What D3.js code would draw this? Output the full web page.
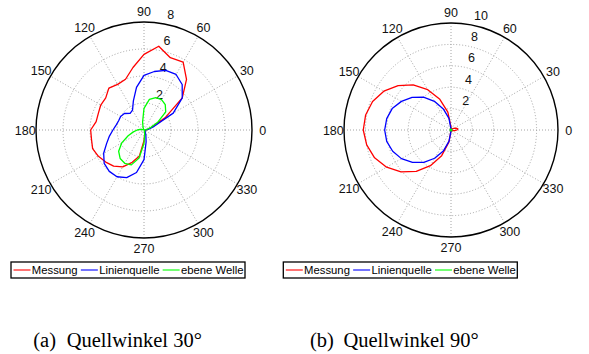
<!DOCTYPE html>
<html>
<head>
<meta charset="utf-8">
<script src="https://cdn.jsdelivr.net/npm/d3@7"></script>
<style>
  body { margin: 0; background: #fff; }
  svg { display: block; }
</style>
</head>
<body>
<svg id="chart" width="589" height="354"></svg>
<script>
// measurement directions, degrees counter-clockwise from 0
const thetaDeg = [0, 10, 20, 30, 40, 50, 60, 70, 80, 90, 100, 110, 120, 130, 140, 150, 160, 170,
  180, 190, 200, 210, 220, 230, 240, 250, 260, 270, 280, 290, 300, 310, 320, 330, 340, 350];

// (a) source angle 30 deg
const messungA = [0.15, 0.3, 0.6, 1.8, 3.7, 4.9, 5.8, 5.7, 6.3, 5.6, 4.7, 4.0, 3.9, 4.05, 3.7, 3.7, 3.6, 3.6,
  3.95, 3.95, 4.05, 3.9, 3.7, 3.5, 3.15, 2.55, 1.95, 0.8, 0.3, 0.15, 0.1, 0.1, 0.1, 0.1, 0.1, 0.1];
const linienA = [0.15, 0.35, 0.8, 2.5, 3.7, 4.4, 4.75, 4.7, 4.4, 4.05, 3.2, 2.3, 1.7, 1.6, 1.9, 2.0, 2.0, 2.1,
  2.3, 2.6, 2.95, 3.45, 3.85, 4.0, 4.0, 3.75, 3.2, 2.2, 0.9, 0.4, 0.2, 0.1, 0.1, 0.1, 0.1, 0.1];
const ebeneA = [0.1, 0.2, 0.5, 1.2, 2.1, 2.45, 2.6, 2.55, 2.3, 1.6, 0.6, 0.2, 0.05, 0.05, 0.05, 0.05, 0.1, 0.3,
  0.5, 0.8, 1.25, 1.9, 2.45, 2.75, 2.85, 2.75, 2.1, 1.0, 0.3, 0.1, 0.05, 0.05, 0.05, 0.05, 0.05, 0.05];

// (b) source angle 90 deg
const messungB = [0.55, 0.65, 0.5, 0.3, 0.15, 0.1, 0.05, 0.05, 0.05, 0.3, 1.7, 3.05, 4.35, 5.5, 6.45, 7.25, 7.8, 8.1,
  8.2, 8.0, 7.6, 6.95, 6.1, 5.05, 3.85, 2.55, 1.15, 0.1, 0.05, 0.05, 0.05, 0.05, 0.05, 0.05, 0.15, 0.35];
const linienB = [0.05, 0.05, 0.05, 0.05, 0.05, 0.05, 0.05, 0.05, 0.05, 0.1, 1.1, 2.1, 3.1, 4.0, 4.75, 5.35, 5.85, 6.1,
  6.2, 6.1, 5.8, 5.35, 4.7, 3.95, 3.05, 2.1, 1.05, 0.1, 0.05, 0.05, 0.05, 0.05, 0.05, 0.05, 0.05, 0.05];
const ebeneB = [0.08, 0.08, 0.08, 0.08, 0.08, 0.08, 0.08, 0.08, 0.08, 0.08, 0.08, 0.08, 0.08, 0.08, 0.08, 0.08, 0.08, 0.08,
  0.08, 0.08, 0.08, 0.08, 0.08, 0.08, 0.08, 0.08, 0.08, 0.08, 0.08, 0.08, 0.08, 0.08, 0.08, 0.08, 0.08, 0.08];

const angleTicks = [0, 30, 60, 90, 120, 150, 180, 210, 240, 270, 300, 330];
const rTicksA = [2, 4, 6, 8];
const rTicksB = [2, 4, 6, 8, 10];
const seriesNames = ["Messung", "Linienquelle", "ebene Welle"];
const seriesColors = ["#ff0000", "#0000ff", "#00ff00"];
const captionA = ["(a)", "Quellwinkel", "30°"];
const captionB = ["(b)", "Quellwinkel", "90°"];

const svg = d3.select("#chart");
svg.append("rect").attr("width", 589).attr("height", 354).attr("fill", "#fff");

const rad = (deg) => deg * Math.PI / 180;
const sans = "'Liberation Sans', Arial, Helvetica, sans-serif";

const drawPolar = ({ cx, cy, radius, rTicks, series, legendX, captionX, caption }) => {
  const rmax = d3.max(rTicks);
  const rinc = rTicks[1] - rTicks[0];
  const r = d3.scaleLinear().domain([0, rmax]).range([0, radius]);
  const g = svg.append("g").attr("transform", `translate(${cx},${cy})`);

  // dotted grid circles
  g.selectAll("circle.grid")
    .data(rTicks.filter((t) => t < rmax))
    .join("circle")
    .attr("class", "grid")
    .attr("r", (d) => r(d))
    .attr("fill", "none")
    .attr("stroke", "#9a9a9a")
    .attr("stroke-width", 0.9)
    .attr("stroke-dasharray", "1 2");

  // dotted spokes
  g.selectAll("line.spoke")
    .data(angleTicks.filter((a) => a < 180))
    .join("line")
    .attr("class", "spoke")
    .attr("x1", (d) => -r(rmax) * Math.cos(rad(d)))
    .attr("y1", (d) => r(rmax) * Math.sin(rad(d)))
    .attr("x2", (d) => r(rmax) * Math.cos(rad(d)))
    .attr("y2", (d) => -r(rmax) * Math.sin(rad(d)))
    .attr("stroke", "#9a9a9a")
    .attr("stroke-width", 0.9)
    .attr("stroke-dasharray", "1 2");

  // outer circle
  g.append("circle")
    .attr("r", r(rmax))
    .attr("fill", "none")
    .attr("stroke", "#000")
    .attr("stroke-width", 1.4);

  // angle labels
  g.selectAll("text.angle")
    .data(angleTicks)
    .join("text")
    .attr("class", "angle")
    .attr("x", (d) => 1.1 * r(rmax) * Math.cos(rad(d)))
    .attr("y", (d) => -1.1 * r(rmax) * Math.sin(rad(d)))
    .attr("dy", "0.36em")
    .attr("text-anchor", "middle")
    .attr("font-family", sans)
    .attr("font-size", "12.5px")
    .attr("fill", "#111")
    .text((d) => d);

  // radial labels, placed along 82 deg like MATLAB's polar
  g.selectAll("text.rtick")
    .data(rTicks)
    .join("text")
    .attr("class", "rtick")
    .attr("x", (d) => r(d + rinc / 20) * Math.cos(rad(82)) + 8)
    .attr("y", (d) => -r(d + rinc / 20) * Math.sin(rad(82)) - 3)
    .attr("font-family", sans)
    .attr("font-size", "12.5px")
    .attr("fill", "#111")
    .text((d) => d);

  // curves
  const line = d3.lineRadial()
    .angle((d) => rad(90 - d.theta))
    .radius((d) => r(d.value))
    .curve(d3.curveLinearClosed);

  series.forEach((values, i) => {
    g.append("path")
      .datum(thetaDeg.map((theta, k) => ({ theta, value: values[k] })))
      .attr("fill", "none")
      .attr("stroke", seriesColors[i])
      .attr("stroke-width", 1.3)
      .attr("stroke-linejoin", "round")
      .attr("d", line);
  });

  // legend
  const lg = svg.append("g").attr("transform", `translate(${legendX},262)`);
  const box = lg.append("rect")
    .attr("height", 16)
    .attr("fill", "#fff")
    .attr("stroke", "#000")
    .attr("stroke-width", 1.3);
  let x = 2.5;
  seriesNames.forEach((name, i) => {
    lg.append("line")
      .attr("x1", x).attr("x2", x + 17)
      .attr("y1", 8).attr("y2", 8)
      .attr("stroke", seriesColors[i])
      .attr("stroke-width", 1.1);
    const t = lg.append("text")
      .attr("x", x + 18.3)
      .attr("y", 8)
      .attr("dy", "0.36em")
      .attr("font-family", sans)
      .attr("font-size", "11.3px")
      .attr("fill", "#000")
      .text(name);
    x += 18.3 + t.node().getComputedTextLength() + 3.2;
  });
  box.attr("width", 234);

  // caption
  const cap = svg.append("text")
    .attr("y", 347)
    .attr("font-family", "'Liberation Serif', 'Times New Roman', serif")
    .attr("font-size", "20.5px")
    .attr("fill", "#000");
  const offsets = [0, 33.4, 140];
  caption.forEach((part, i) => {
    cap.append("tspan").attr("x", captionX + offsets[i]).text(part);
  });
};

drawPolar({
  cx: 144, cy: 130, radius: 108, rTicks: rTicksA,
  series: [messungA, linienA, ebeneA],
  legendX: 11, captionX: 33.3, caption: captionA
});
drawPolar({
  cx: 451, cy: 130, radius: 107, rTicks: rTicksB,
  series: [messungB, linienB, ebeneB],
  legendX: 283.3, captionX: 310, caption: captionB
});
</script>
</body>
</html>
